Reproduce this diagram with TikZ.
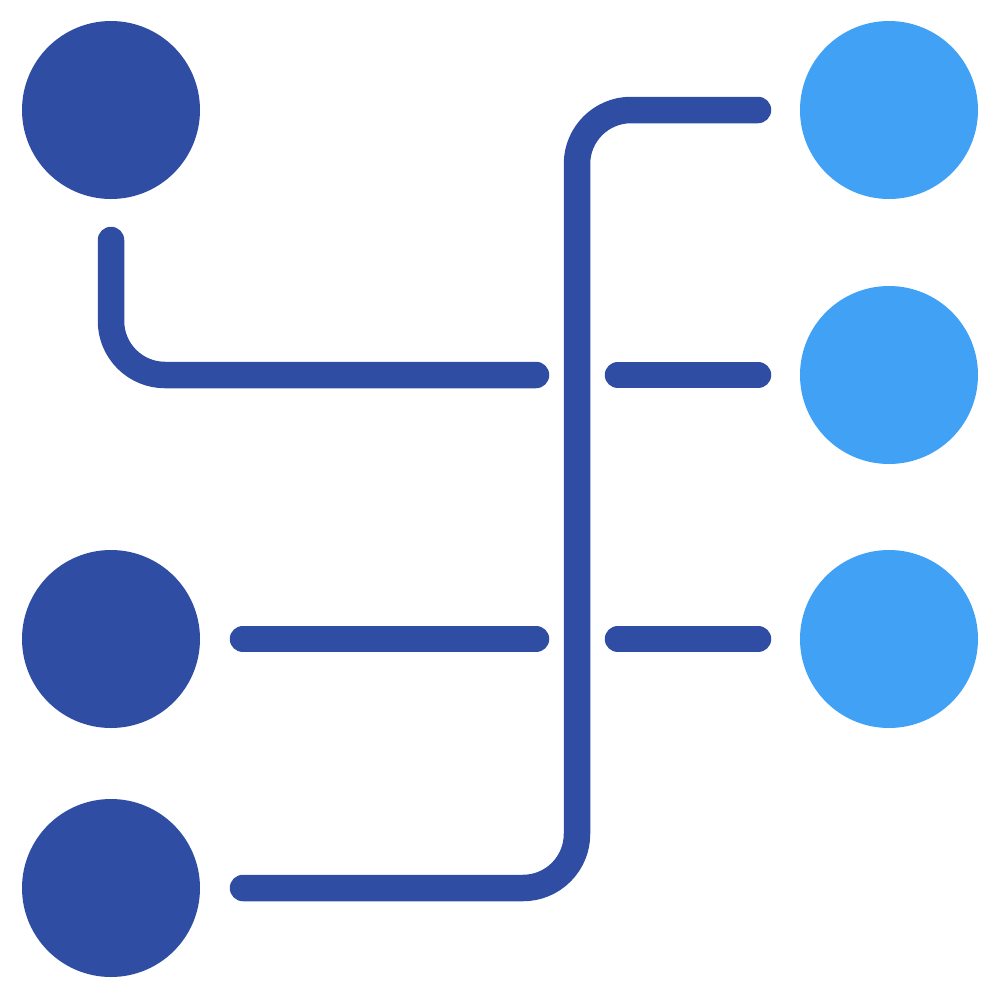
\documentclass[tikz,border=0pt]{standalone}
\usepackage{tikz}
\definecolor{dotdark}{HTML}{2F4DA3}
\definecolor{dotlight}{HTML}{41A1F5}

\begin{document}
\begin{tikzpicture}[x=0.1mm,y=-0.1mm,
  dot/.style={circle, minimum size=17.8mm, inner sep=0pt},
  wire/.style={draw=dotdark, line width=2.65mm, line cap=round,
    line join=round, rounded corners=5.4mm}]
\useasboundingbox (0,0) rectangle (1000,1000);

% dots on both sides
\foreach \y [count=\i] in {110,639,888}
  \node [dot, fill=dotdark] (left \i) at (111,\y) {};
\foreach \y [count=\i] in {110,375,639}
  \node [dot, fill=dotlight] (right \i) at (889,\y) {};

% wire ends
\coordinate (top start) at (111,240);
\coordinate (top end)   at (536,375);
\coordinate (mid start) at (243,639);
\coordinate (mid end)   at (536,639);
\coordinate (bus start) at (758,110);
\coordinate (bus turn)  at (577,888);
\coordinate (bus end)   at (243,888);
\foreach \y [count=\i] in {375,639} {
  \coordinate (stub \i a) at (618,\y);
  \coordinate (stub \i b) at (758,\y);
}

\draw [wire] (top start) |- (top end);
\draw [wire] (mid start) -- (mid end);
\draw [wire] (bus start) -| (bus turn) -- (bus end);
\foreach \i in {1,2}
  \draw [wire] (stub \i a) -- (stub \i b);

\end{tikzpicture}
\end{document}
